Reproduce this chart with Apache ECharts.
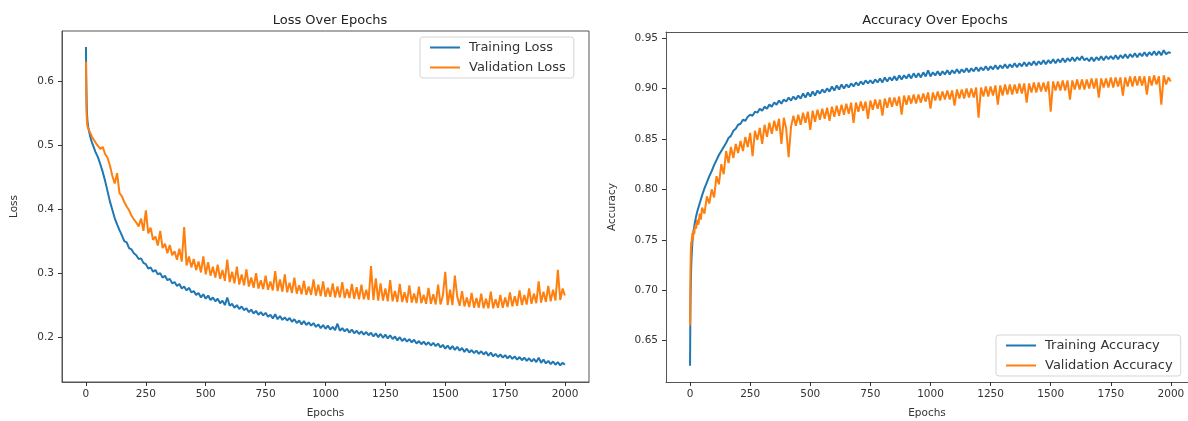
<!DOCTYPE html>
<html>
<head>
<meta charset="utf-8">
<script src="https://cdn.jsdelivr.net/npm/echarts@6/dist/echarts.min.js"></script>
<style>
  html, body { margin: 0; padding: 0; background: #fff; }
  #chart { width: 1188px; height: 421px; }
</style>
</head>
<body>
<div id="chart"></div>
<script>
// epochs (dense at the start, then every 10)
const epochs = [
  0, 1, 2, 3, 4, 5, 6, 8, 10, 12, 15, 18, 20, 25, 30, 35, 40, 45,
  50, 60, 70, 80, 90, 100, 110, 120, 130, 140,
  150, 160, 170, 180, 190, 200, 210, 220, 230, 240,
  250, 260, 270, 280, 290, 300, 310, 320, 330, 340,
  350, 360, 370, 380, 390, 400, 410, 420, 430, 440,
  450, 460, 470, 480, 490, 500, 510, 520, 530, 540,
  550, 560, 570, 580, 590, 600, 610, 620, 630, 640,
  650, 660, 670, 680, 690, 700, 710, 720, 730, 740,
  750, 760, 770, 780, 790, 800, 810, 820, 830, 840,
  850, 860, 870, 880, 890, 900, 910, 920, 930, 940,
  950, 960, 970, 980, 990, 1000, 1010, 1020, 1030, 1040,
  1050, 1060, 1070, 1080, 1090, 1100, 1110, 1120, 1130, 1140,
  1150, 1160, 1170, 1180, 1190, 1200, 1210, 1220, 1230, 1240,
  1250, 1260, 1270, 1280, 1290, 1300, 1310, 1320, 1330, 1340,
  1350, 1360, 1370, 1380, 1390, 1400, 1410, 1420, 1430, 1440,
  1450, 1460, 1470, 1480, 1490, 1500, 1510, 1520, 1530, 1540,
  1550, 1560, 1570, 1580, 1590, 1600, 1610, 1620, 1630, 1640,
  1650, 1660, 1670, 1680, 1690, 1700, 1710, 1720, 1730, 1740,
  1750, 1760, 1770, 1780, 1790, 1800, 1810, 1820, 1830, 1840,
  1850, 1860, 1870, 1880, 1890, 1900, 1910, 1920, 1930, 1940,
  1950, 1960, 1970, 1980, 1990, 1999
];

const trainLoss = [
  0.653, 0.612, 0.585, 0.566, 0.553, 0.545, 0.539, 0.532, 0.527, 0.523, 0.518, 0.513, 0.510, 0.504, 0.499, 0.494, 0.489, 0.485,
  0.481, 0.470, 0.458, 0.444, 0.428, 0.412, 0.399, 0.386, 0.376, 0.367,
  0.359, 0.350, 0.348, 0.339, 0.337, 0.331, 0.328, 0.322, 0.323, 0.316,
  0.314, 0.307, 0.309, 0.302, 0.305, 0.298, 0.300, 0.293, 0.296, 0.289,
  0.291, 0.284, 0.286, 0.280, 0.283, 0.276, 0.279, 0.273, 0.277, 0.270,
  0.272, 0.266, 0.269, 0.262, 0.267, 0.260, 0.265, 0.258, 0.262, 0.256,
  0.260, 0.253, 0.257, 0.250, 0.262, 0.249, 0.252, 0.246, 0.250, 0.244,
  0.248, 0.242, 0.245, 0.239, 0.243, 0.237, 0.241, 0.235, 0.239, 0.234,
  0.238, 0.232, 0.235, 0.229, 0.236, 0.228, 0.233, 0.227, 0.231, 0.226,
  0.230, 0.224, 0.228, 0.222, 0.226, 0.220, 0.225, 0.219, 0.223, 0.218,
  0.222, 0.216, 0.220, 0.214, 0.219, 0.213, 0.218, 0.212, 0.216, 0.211,
  0.221, 0.210, 0.214, 0.209, 0.213, 0.207, 0.212, 0.206, 0.210, 0.205,
  0.209, 0.204, 0.208, 0.203, 0.207, 0.201, 0.206, 0.200, 0.205, 0.199,
  0.204, 0.198, 0.203, 0.197, 0.201, 0.195, 0.200, 0.194, 0.198, 0.193,
  0.197, 0.192, 0.196, 0.190, 0.194, 0.189, 0.193, 0.188, 0.192, 0.187,
  0.191, 0.186, 0.190, 0.184, 0.188, 0.182, 0.187, 0.181, 0.186, 0.180,
  0.185, 0.179, 0.183, 0.177, 0.182, 0.176, 0.180, 0.175, 0.179, 0.174,
  0.178, 0.173, 0.177, 0.171, 0.176, 0.170, 0.174, 0.169, 0.173, 0.168,
  0.172, 0.167, 0.171, 0.166, 0.170, 0.165, 0.169, 0.164, 0.168, 0.163,
  0.167, 0.162, 0.166, 0.161, 0.168, 0.160, 0.165, 0.159, 0.163, 0.158,
  0.162, 0.157, 0.161, 0.156, 0.160, 0.157
];

const valLoss = [
  0.630, 0.590, 0.560, 0.545, 0.538, 0.535, 0.530, 0.528, 0.532, 0.524, 0.527, 0.519, 0.521, 0.513, 0.516, 0.507, 0.510, 0.501,
  0.503, 0.494, 0.497, 0.486, 0.480, 0.468, 0.452, 0.440, 0.456, 0.425,
  0.420, 0.411, 0.404, 0.398, 0.390, 0.384, 0.379, 0.373, 0.385, 0.366,
  0.398, 0.362, 0.371, 0.352, 0.357, 0.343, 0.366, 0.339, 0.346, 0.331,
  0.344, 0.328, 0.334, 0.321, 0.338, 0.318, 0.372, 0.312, 0.326, 0.309,
  0.322, 0.305, 0.318, 0.301, 0.326, 0.298, 0.317, 0.296, 0.310, 0.293,
  0.313, 0.291, 0.305, 0.288, 0.321, 0.286, 0.302, 0.284, 0.310, 0.282,
  0.298, 0.281, 0.306, 0.279, 0.293, 0.277, 0.300, 0.276, 0.289, 0.275,
  0.296, 0.274, 0.287, 0.273, 0.303, 0.272, 0.290, 0.271, 0.298, 0.270,
  0.285, 0.269, 0.293, 0.268, 0.281, 0.267, 0.288, 0.266, 0.279, 0.266,
  0.290, 0.265, 0.282, 0.264, 0.287, 0.263, 0.277, 0.263, 0.284, 0.262,
  0.279, 0.262, 0.286, 0.261, 0.275, 0.261, 0.283, 0.260, 0.278, 0.259,
  0.282, 0.259, 0.274, 0.258, 0.311, 0.258, 0.292, 0.257, 0.284, 0.257,
  0.276, 0.256, 0.289, 0.256, 0.272, 0.255, 0.283, 0.255, 0.270, 0.254,
  0.281, 0.254, 0.268, 0.253, 0.279, 0.253, 0.266, 0.252, 0.277, 0.252,
  0.267, 0.251, 0.282, 0.251, 0.265, 0.302, 0.250, 0.274, 0.250, 0.296,
  0.263, 0.249, 0.272, 0.248, 0.262, 0.247, 0.269, 0.246, 0.261, 0.246,
  0.268, 0.245, 0.260, 0.245, 0.271, 0.245, 0.259, 0.246, 0.266, 0.246,
  0.262, 0.247, 0.270, 0.248, 0.264, 0.249, 0.273, 0.250, 0.266, 0.251,
  0.276, 0.252, 0.268, 0.253, 0.287, 0.254, 0.271, 0.255, 0.280, 0.256,
  0.274, 0.257, 0.305, 0.258, 0.276, 0.265
];

const trainAcc = [
  0.625, 0.664, 0.690, 0.705, 0.716, 0.724, 0.731, 0.741, 0.748, 0.753, 0.759, 0.764, 0.767, 0.773, 0.778, 0.782, 0.786, 0.790,
  0.794, 0.801, 0.807, 0.813, 0.818, 0.824, 0.829, 0.834, 0.838, 0.842,
  0.846, 0.851, 0.853, 0.858, 0.860, 0.864, 0.865, 0.869, 0.868, 0.872,
  0.874, 0.873, 0.877, 0.876, 0.880, 0.878, 0.882, 0.880, 0.884, 0.882,
  0.886, 0.884, 0.888, 0.885, 0.889, 0.887, 0.891, 0.888, 0.892, 0.889,
  0.893, 0.890, 0.895, 0.891, 0.896, 0.892, 0.897, 0.893, 0.898, 0.895,
  0.899, 0.896, 0.900, 0.897, 0.902, 0.898, 0.903, 0.899, 0.904, 0.900,
  0.904, 0.901, 0.905, 0.902, 0.906, 0.903, 0.907, 0.904, 0.908, 0.905,
  0.908, 0.905, 0.909, 0.906, 0.910, 0.906, 0.911, 0.907, 0.911, 0.908,
  0.912, 0.908, 0.913, 0.909, 0.913, 0.910, 0.914, 0.910, 0.915, 0.911,
  0.915, 0.911, 0.916, 0.912, 0.918, 0.912, 0.916, 0.913, 0.917, 0.913,
  0.917, 0.914, 0.918, 0.914, 0.918, 0.915, 0.919, 0.915, 0.919, 0.916,
  0.920, 0.916, 0.920, 0.917, 0.921, 0.917, 0.921, 0.918, 0.922, 0.918,
  0.922, 0.919, 0.923, 0.919, 0.923, 0.920, 0.924, 0.920, 0.924, 0.921,
  0.925, 0.921, 0.925, 0.922, 0.926, 0.922, 0.926, 0.923, 0.927, 0.923,
  0.927, 0.924, 0.928, 0.924, 0.928, 0.925, 0.929, 0.925, 0.929, 0.926,
  0.930, 0.926, 0.930, 0.927, 0.931, 0.927, 0.931, 0.928, 0.932, 0.928,
  0.930, 0.927, 0.931, 0.927, 0.931, 0.928, 0.932, 0.928, 0.932, 0.929,
  0.932, 0.929, 0.933, 0.929, 0.933, 0.930, 0.934, 0.930, 0.934, 0.931,
  0.935, 0.931, 0.935, 0.932, 0.936, 0.932, 0.936, 0.933, 0.937, 0.933,
  0.937, 0.933, 0.938, 0.934, 0.936, 0.935
];

const valAcc = [
  0.665, 0.700, 0.722, 0.735, 0.742, 0.748, 0.744, 0.752, 0.757, 0.750, 0.760, 0.756, 0.764, 0.761, 0.770, 0.765, 0.776, 0.770,
  0.782, 0.776, 0.793, 0.786, 0.800, 0.792, 0.813, 0.805, 0.825, 0.815,
  0.838, 0.826, 0.842, 0.831, 0.845, 0.836, 0.848, 0.838, 0.852, 0.842,
  0.856, 0.833, 0.858, 0.849, 0.861, 0.845, 0.864, 0.852, 0.866, 0.855,
  0.868, 0.858, 0.870, 0.845, 0.871, 0.860, 0.832, 0.862, 0.873, 0.863,
  0.874, 0.864, 0.876, 0.866, 0.877, 0.859, 0.878, 0.867, 0.879, 0.869,
  0.880, 0.870, 0.881, 0.868, 0.882, 0.872, 0.883, 0.873, 0.884, 0.874,
  0.885, 0.875, 0.886, 0.866, 0.886, 0.877, 0.887, 0.878, 0.887, 0.870,
  0.888, 0.879, 0.889, 0.880, 0.889, 0.873, 0.890, 0.881, 0.891, 0.882,
  0.891, 0.883, 0.892, 0.874, 0.893, 0.884, 0.893, 0.885, 0.894, 0.885,
  0.894, 0.886, 0.895, 0.887, 0.896, 0.880, 0.896, 0.888, 0.897, 0.888,
  0.897, 0.889, 0.898, 0.889, 0.898, 0.883, 0.899, 0.890, 0.899, 0.890,
  0.900, 0.891, 0.900, 0.891, 0.901, 0.871, 0.901, 0.892, 0.902, 0.892,
  0.902, 0.893, 0.903, 0.884, 0.903, 0.893, 0.904, 0.894, 0.904, 0.894,
  0.904, 0.895, 0.905, 0.895, 0.905, 0.886, 0.905, 0.896, 0.906, 0.896,
  0.906, 0.897, 0.906, 0.897, 0.907, 0.877, 0.907, 0.898, 0.907, 0.898,
  0.908, 0.898, 0.908, 0.889, 0.908, 0.899, 0.909, 0.899, 0.909, 0.899,
  0.909, 0.900, 0.910, 0.900, 0.910, 0.891, 0.910, 0.901, 0.910, 0.901,
  0.911, 0.901, 0.911, 0.902, 0.911, 0.893, 0.911, 0.902, 0.912, 0.902,
  0.912, 0.903, 0.912, 0.903, 0.912, 0.894, 0.912, 0.903, 0.913, 0.904,
  0.912, 0.884, 0.913, 0.904, 0.911, 0.907
];

const epochTicks = [0, 250, 500, 750, 1000, 1250, 1500, 1750, 2000];
const lossTicks = [0.2, 0.3, 0.4, 0.5, 0.6];
const accTicks = [0.65, 0.70, 0.75, 0.80, 0.85, 0.90, 0.95];

const BLUE = '#1f77b4';
const ORANGE = '#ff7f0e';
const FONT = 'DejaVu Sans';
const INK = '#333';
const SPINE = '#555';

function pairs(values) {
    return epochs.map((e, i) => [e, values[i]]);
}

function xAxisFor(gridIndex, max) {
    return {
        type: 'value', gridIndex: gridIndex, min: -100, max: max,
        name: 'Epochs', nameLocation: 'middle', nameGap: 26,
        nameTextStyle: { fontFamily: FONT, fontSize: 10.5, color: INK },
        axisLine: { show: true, onZero: false, lineStyle: { color: SPINE } },
        splitLine: { show: false },
        axisTick: { show: true, length: 4, customValues: epochTicks, lineStyle: { color: INK } },
        axisLabel: {
            customValues: epochTicks, margin: 7, fontFamily: FONT, fontSize: 10.5, color: INK,
            formatter: v => String(v)
        }
    };
}

// plain top spine (no ticks, no labels)
function topSpine(gridIndex, max) {
    return {
        type: 'value', gridIndex: gridIndex, position: 'top', min: -100, max: max,
        axisLine: { show: true, onZero: false, lineStyle: { color: SPINE } },
        axisTick: { show: false }, axisLabel: { show: false }, splitLine: { show: false }
    };
}

function yAxisFor(gridIndex, name, min, max, ticks, digits, gap) {
    return {
        type: 'value', gridIndex: gridIndex, min: min, max: max,
        name: name, nameLocation: 'middle', nameGap: gap, nameRotate: 90,
        nameTextStyle: { fontFamily: FONT, fontSize: 10.5, color: INK },
        axisLine: { show: true, onZero: false, lineStyle: { color: SPINE } },
        splitLine: { show: false },
        axisTick: { show: true, length: 4, customValues: ticks, lineStyle: { color: INK } },
        axisLabel: {
            customValues: ticks, margin: 8, fontFamily: FONT, fontSize: 10.5, color: INK,
            formatter: v => v.toFixed(digits)
        }
    };
}

function lineSeries(name, values, color, idx) {
    return {
        name: name, type: 'line', xAxisIndex: idx, yAxisIndex: idx,
        data: pairs(values), color: color,
        symbol: 'none', showSymbol: false,
        lineStyle: { width: 2, color: color },
        silent: true
    };
}

function legendFor(names, left, top) {
    return {
        data: names, orient: 'vertical', left: left, top: top,
        icon: 'rect', itemWidth: 30, itemHeight: 2, itemGap: 7,
        padding: [4, 8, 4, 10],
        borderColor: '#d5d5d5', borderWidth: 1, borderRadius: 3,
        backgroundColor: 'rgba(255,255,255,0.8)',
        textStyle: { fontFamily: FONT, fontSize: 13, color: INK, padding: [0, 0, 0, 4] }
    };
}

const chart = echarts.init(document.getElementById('chart'), null, { renderer: 'canvas' });

chart.setOption({
    animation: false,
    backgroundColor: '#fff',
    title: [
        { text: 'Loss Over Epochs', left: 325, top: 9, textAlign: 'center',
          textStyle: { fontFamily: FONT, fontSize: 13, fontWeight: 'normal', color: '#222' } },
        { text: 'Accuracy Over Epochs', left: 930, top: 9, textAlign: 'center',
          textStyle: { fontFamily: FONT, fontSize: 13, fontWeight: 'normal', color: '#222' } }
    ],
    legend: [
        legendFor(['Training Loss', 'Validation Loss'], 420, 37),
        legendFor(['Training Accuracy', 'Validation Accuracy'], 996, 335)
    ],
    grid: [
        { left: 62, top: 31, width: 527, height: 351, outerBoundsMode: 'none',
          show: true, borderColor: SPINE, borderWidth: 1, backgroundColor: 'transparent' },
        // right panel is cut by the image edge, so no right spine
        { left: 666, top: 32, right: 0, height: 350, outerBoundsMode: 'none', show: false }
    ],
    xAxis: [xAxisFor(0, 2100), xAxisFor(1, 2071), topSpine(1, 2071)],
    yAxis: [
        yAxisFor(0, 'Loss', 0.13, 0.678, lossTicks, 1, 42),
        yAxisFor(1, 'Accuracy', 0.609, 0.956, accTicks, 2, 48)
    ],
    series: [
        lineSeries('Training Loss', trainLoss, BLUE, 0),
        lineSeries('Validation Loss', valLoss, ORANGE, 0),
        lineSeries('Training Accuracy', trainAcc, BLUE, 1),
        lineSeries('Validation Accuracy', valAcc, ORANGE, 1)
    ]
});
</script>
</body>
</html>
